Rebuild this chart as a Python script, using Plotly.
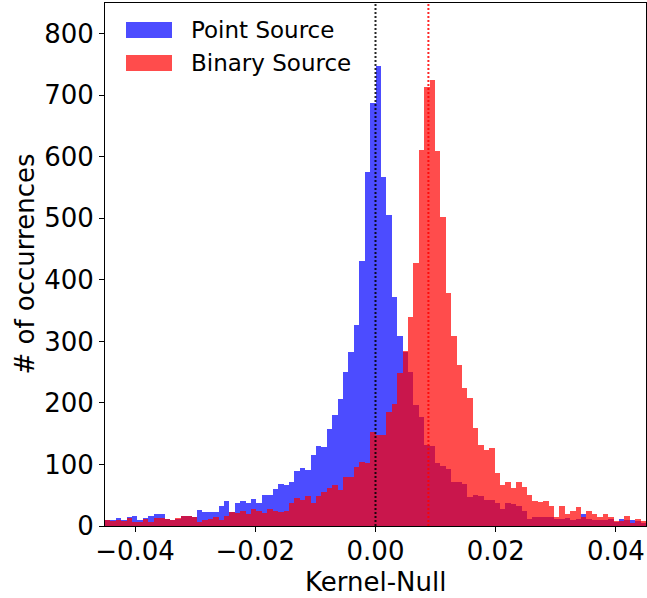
import numpy as np
import plotly.graph_objects as go

# ---- data ----
bin_edges = np.linspace(-0.045, 0.045, 101)

point_counts = [
    9, 10, 13, 10, 14, 17, 10, 13, 17, 20,
    20, 12, 10, 12, 16, 16, 14, 26, 22, 22,
    22, 33, 41, 22, 37, 41, 37, 44, 37, 51,
    51, 60, 68, 67, 71, 89, 94, 91, 116, 130,
    128, 157, 181, 207, 250, 282, 327, 430, 576, 688,
    748, 567, 505, 373, 309, 283, 250, 196, 177, 132,
    130, 103, 98, 93, 72, 72, 69, 47, 51, 48,
    43, 42, 37, 28, 37, 35, 32, 25, 12, 15,
    14, 14, 14, 12, 12, 13, 10, 12, 20, 11,
    10, 9, 10, 11, 7, 12, 10, 9, 8, 5,
]

binary_counts = [
    10, 8, 9, 8, 13, 6, 6, 12, 7, 13,
    13, 12, 10, 13, 17, 17, 15, 7, 9, 12,
    14, 9, 17, 22, 21, 24, 20, 28, 24, 21,
    28, 24, 22, 24, 37, 46, 42, 48, 37, 48,
    55, 62, 67, 58, 80, 80, 96, 104, 103, 152,
    148, 148, 185, 198, 249, 284, 340, 428, 611, 714,
    725, 609, 503, 379, 308, 261, 224, 208, 159, 132,
    124, 127, 86, 67, 71, 62, 71, 63, 50, 41,
    39, 40, 33, 15, 33, 20, 25, 31, 15, 24,
    19, 15, 20, 15, 8, 8, 17, 5, 11, 8,
]

series_names = ["Point Source", "Binary Source"]
point_marker = 0.0
binary_marker = 0.0088

x_range = [-0.045, 0.045]
y_range = [0, 850]
x_tick_vals = [-0.04, -0.02, 0.0, 0.02, 0.04]
x_tick_text = ["\u22120.04", "\u22120.02", "0.00", "0.02", "0.04"]
y_tick_vals = [0, 100, 200, 300, 400, 500, 600, 700, 800]
x_title = "Kernel-Null"
y_title = "# of occurrences"

# ---- figure ----
centers = (bin_edges[:-1] + bin_edges[1:]) / 2
widths = np.diff(bin_edges)

BLUE = "rgba(0,0,255,0.7)"
RED = "rgba(255,0,0,0.7)"
FONT = "DejaVu Sans"

fig = go.Figure()
fig.add_trace(go.Bar(x=centers, y=point_counts, width=widths, name=series_names[0],
                     marker=dict(color=BLUE, line=dict(width=0))))
fig.add_trace(go.Bar(x=centers, y=binary_counts, width=widths, name=series_names[1],
                     marker=dict(color=RED, line=dict(width=0))))

fig.add_shape(type="line", xref="x", yref="paper", x0=point_marker, x1=point_marker,
              y0=0, y1=1, layer="above",
              line=dict(color="rgba(0,0,0,0.85)", width=2, dash="2px,2px"))
fig.add_shape(type="line", xref="x", yref="paper", x0=binary_marker, x1=binary_marker,
              y0=0, y1=1, layer="above",
              line=dict(color="rgba(255,0,0,0.85)", width=2, dash="2px,2px"))

# manual legend
L, W, T, H = 105, 541, 3, 523
def px(xp):
    return (xp - L) / W
def py(yp):
    return (T + H - yp) / H

for i, (name, col) in enumerate(zip(series_names, [BLUE, RED])):
    yc = 30 + 33 * i
    fig.add_shape(type="rect", xref="paper", yref="paper",
                  x0=px(126), x1=px(172), y0=py(yc + 8), y1=py(yc - 8),
                  fillcolor=col, line=dict(width=0), layer="above")
    fig.add_annotation(xref="paper", yref="paper", x=px(189), y=py(yc),
                       xanchor="left", yanchor="middle", showarrow=False,
                       text=name, font=dict(family=FONT, size=23, color="black"))

fig.add_annotation(xref="paper", yref="paper", x=px(24), y=0.5, textangle=-90,
                   xanchor="center", yanchor="middle", showarrow=False,
                   text=y_title, font=dict(family=FONT, size=26, color="black"))
fig.add_annotation(xref="paper", yref="paper", x=0.5, y=py(582),
                   xanchor="center", yanchor="middle", showarrow=False,
                   text=x_title, font=dict(family=FONT, size=26, color="black"))

axis_common = dict(showline=True, mirror=True, linecolor="black", linewidth=1,
                   ticks="outside", ticklen=5, tickwidth=1, tickcolor="black",
                   showgrid=False, zeroline=False,
                   tickfont=dict(family=FONT, size=26, color="black"))

fig.update_layout(
    width=647, height=598,
    margin=dict(l=105, r=1, t=3, b=72),
    barmode="overlay", bargap=0,
    showlegend=False,
    plot_bgcolor="white", paper_bgcolor="white",
    xaxis=dict(range=x_range, tickvals=x_tick_vals, ticktext=x_tick_text,
               ticklabelstandoff=-3, **axis_common),
    yaxis=dict(range=y_range, tickvals=y_tick_vals, **axis_common),
)

fig.write_html("out.html")
